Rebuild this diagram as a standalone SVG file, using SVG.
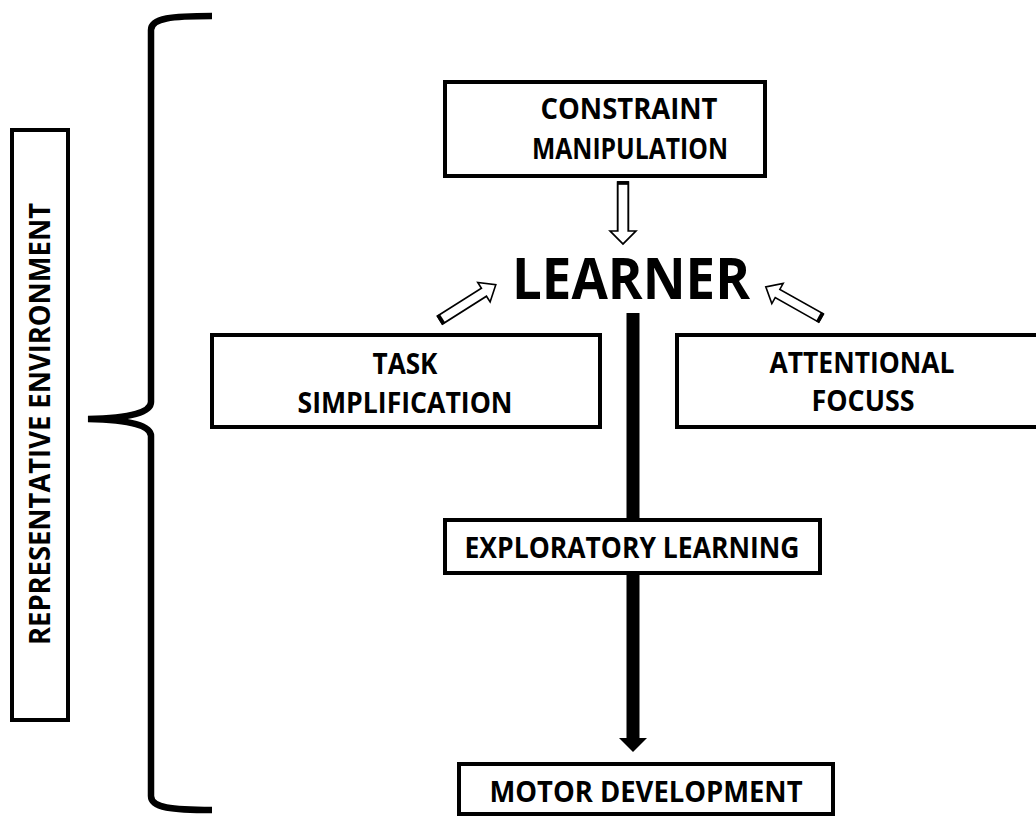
<svg xmlns="http://www.w3.org/2000/svg" width="1036" height="817" viewBox="0 0 1036 817">
<style>
.box{fill:#fff;stroke:#000;stroke-width:4}
.lbl{font-family:"Open Sans","Noto Sans","Liberation Sans",sans-serif;font-weight:700;font-size:28px;fill:#000;text-anchor:middle}
.big{font-family:"Open Sans","Noto Sans","Liberation Sans",sans-serif;font-weight:700;font-size:57px;fill:#000}
.hollow{fill:#fff;stroke:#000;stroke-width:1.6;stroke-linejoin:miter}
.cap{stroke:#000;stroke-width:4}
</style>
<defs>
<g id="hollowArrow">
<path class="hollow" d="M0,-4.5 L52,-4.5 L52,-11 L66,0 L52,11 L52,4.5 L0,4.5 Z"/>
<line class="cap" x1="1" y1="-5" x2="1" y2="5"/>
</g>
</defs>
<rect width="1036" height="817" fill="#fff"/>
<g id="brace">
<path d="M212,16 C172,16 151,18 151,30 L151,402 C151,412 132,418 88,419 C132,420 151,426 151,436 L151,796 C151,808 172,810 212,810" fill="none" stroke="#000" stroke-width="6.5"/>
</g>
<g id="connectors">
<use href="#hollowArrow" transform="translate(623,182) rotate(90) scale(0.94,1.18)"/>
<use href="#hollowArrow" transform="translate(440,320) rotate(-32.3) scale(1,1.05)"/>
<use href="#hollowArrow" transform="translate(821,318) rotate(-150.6) scale(0.96,1.05)"/>
<rect x="626.5" y="313" width="13" height="427" fill="#000"/>
<polygon points="619,738 647,738 633,752" fill="#000"/>
</g>
<g id="representative">
<rect class="box" x="12" y="130" width="56" height="590"/>
<text class="lbl" transform="translate(50,424) rotate(-90)" x="0" y="0" textLength="442" lengthAdjust="spacingAndGlyphs">REPRESENTATIVE ENVIRONMENT</text>
</g>
<g id="constraint">
<rect class="box" x="445" y="82" width="320" height="94"/>
<text class="lbl" x="629" y="119" textLength="177" lengthAdjust="spacingAndGlyphs">CONSTRAINT</text>
<text class="lbl" x="630" y="159" textLength="196" lengthAdjust="spacingAndGlyphs">MANIPULATION</text>
</g>
<g id="learner">
<text class="big" x="512" y="299" textLength="238" lengthAdjust="spacingAndGlyphs">LEARNER</text>
</g>
<g id="task">
<rect class="box" x="212" y="335" width="388" height="92"/>
<text class="lbl" x="405" y="374" textLength="65" lengthAdjust="spacingAndGlyphs">TASK</text>
<text class="lbl" x="405" y="413" textLength="215" lengthAdjust="spacingAndGlyphs">SIMPLIFICATION</text>
</g>
<g id="attentional">
<rect class="box" x="677" y="335" width="370" height="92"/>
<text class="lbl" x="862" y="373" textLength="185" lengthAdjust="spacingAndGlyphs">ATTENTIONAL</text>
<text class="lbl" x="863" y="411" textLength="103" lengthAdjust="spacingAndGlyphs">FOCUSS</text>
</g>
<g id="exploratory">
<rect class="box" x="445" y="520" width="375" height="53"/>
<text class="lbl" x="632" y="558" textLength="335" lengthAdjust="spacingAndGlyphs">EXPLORATORY LEARNING</text>
</g>
<g id="motor">
<rect class="box" x="459" y="764" width="374" height="50"/>
<text class="lbl" x="646" y="802" textLength="313" lengthAdjust="spacingAndGlyphs">MOTOR DEVELOPMENT</text>
</g>
</svg>
